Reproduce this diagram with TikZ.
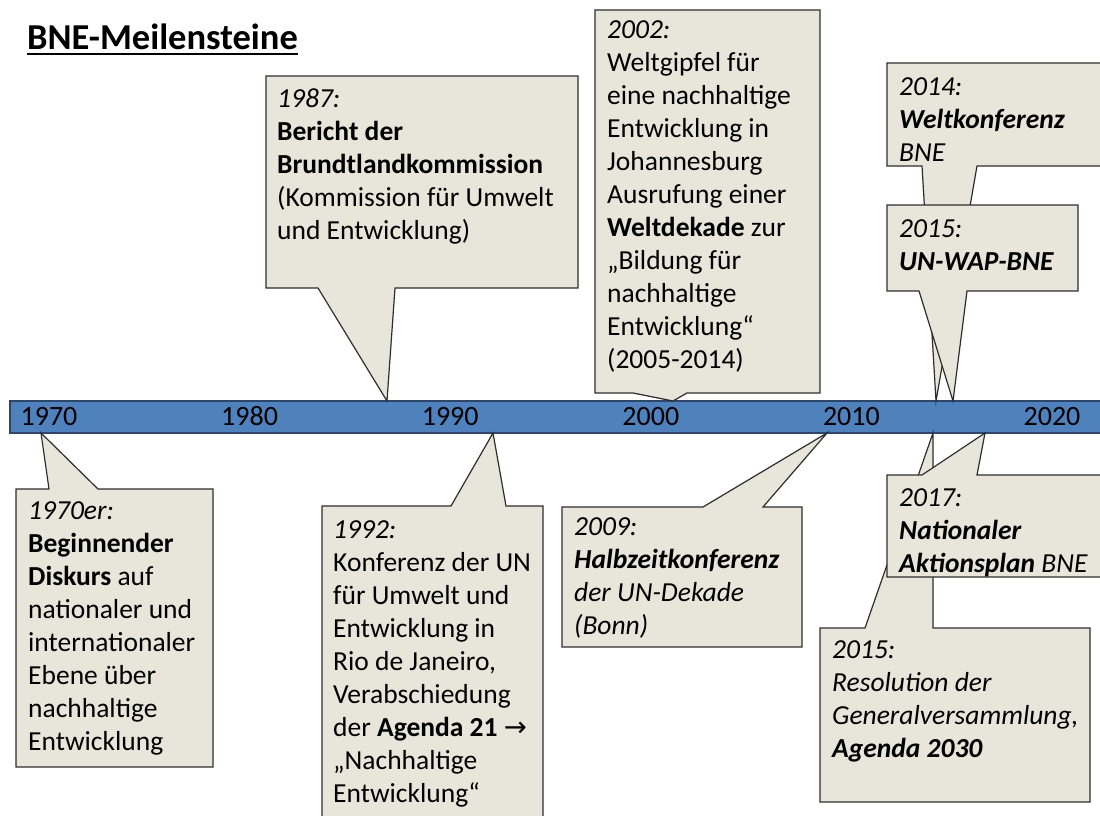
\documentclass[tikz,border=0pt]{standalone}
\usepackage{fontspec}
\setmainfont{Carlito}
\newfontfamily\arrowfont{DejaVu Sans}
\usetikzlibrary{calc}
\definecolor{barblue}{RGB}{79,129,189}
\definecolor{barline}{RGB}{45,70,105}
\definecolor{notefill}{RGB}{232,230,218}
\definecolor{noteline}{RGB}{45,45,45}
\tikzset{
  note/.style={fill=notefill, draw=noteline, line width=1.2pt},
  notetext/.style={anchor=north west, inner sep=0pt, align=left, font=\fontsize{27.5}{33}\selectfont},
  yearlabel/.style={anchor=base, inner sep=0pt, font=\fontsize{28}{33}\selectfont}
}
\begin{document}
\begin{tikzpicture}[x=1pt, y=-1pt]
  \useasboundingbox (0,0) rectangle (1100,816);
  \clip (0,0) rectangle (1100,816);

  \node[anchor=base west, inner sep=0pt, font=\fontsize{36.5}{40}\selectfont\bfseries] (title) at (27,49) {BNE-Meilensteine};
  \draw[line width=2pt] ([yshift=-5pt]title.base west) -- ([yshift=-5pt]title.base east);

  \draw[fill=barblue, draw=barline, line width=1.2pt] (10,401) rectangle (1120,433);
  \foreach \yr [count=\i from 0] in {1970,1980,...,2020}
    \node[yearlabel] (l\yr) at (49+200.6*\i, 425) {\yr};

  \coordinate (p1970) at (41,433);
  \coordinate (p1987) at (387,401);
  \coordinate (p1992) at (493,433);
  \coordinate (p2002) at (673,401);
  \coordinate (p2009) at (827,433);
  \coordinate (p2014) at (936,401);
  \coordinate (p2015a) at (953,401);
  \coordinate (p2015b) at (933,433);
  \coordinate (p2017) at (985,433);

  % above the time line
  \draw[note] (266,76) -- (578,76) -- (578,288) -- (395,288) -- (p1987) -- (318,288) -- (266,288) -- cycle;
  \node[notetext] (t1987) at (277,84) {\strut\textit{1987:}\\ \textbf{Bericht der}\\ \textbf{Brundtlandkommission}\\ (Kommission für Umwelt\\ und Entwicklung)};

  \draw[note] (595,10) -- (820,10) -- (820,393) -- (687,393) -- (p2002) -- (633,393) -- (595,393) -- cycle;
  \node[notetext] (t2002) at (607,15) {\strut\textit{2002:}\\ Weltgipfel für\\ eine nachhaltige\\ Entwicklung in\\ Johannesburg\\ Ausrufung einer\\ \textbf{Weltdekade} zur\\ „Bildung für\\ nachhaltige\\ Entwicklung“\\ (2005-2014)};

  \draw[note] (887,63) -- (1120,63) -- (1120,166) -- (977,166) -- (p2014) -- (922,166) -- (887,166) -- cycle;
  \node[notetext] (t2014) at (899,72) {\strut\textit{2014:}\\ \textbf{\textit{Weltkonferenz}}\\ \textit{BNE}};

  \draw[note] (887,205) -- (1078,205) -- (1078,291) -- (967,291) -- (p2015a) -- (919,291) -- (887,291) -- cycle;
  \node[notetext] (t2015a) at (899,214) {\strut\textit{2015:}\\ \textbf{\textit{UN-WAP-BNE}}};

  % below the time line
  \draw[note] (16,489) -- (49,489) -- (p1970) -- (98,489) -- (213,489) -- (213,767) -- (16,767) -- cycle;
  \node[notetext] (t1970) at (28,496) {\strut\textit{1970er:}\\ \textbf{Beginnender}\\ \textbf{Diskurs} auf\\ nationaler und\\ internationaler\\ Ebene über\\ nachhaltige\\ Entwicklung};

  \draw[note] (322,506) -- (451,506) -- (p1992) -- (506,506) -- (543,506) -- (543,830) -- (322,830) -- cycle;
  \node[notetext] (t1992) at (333,515) {\strut\textit{1992:}\\ Konferenz der UN\\ für Umwelt und\\ Entwicklung in\\ Rio de Janeiro,\\ Verabschiedung\\ der \textbf{Agenda 21} {\arrowfont →}\\ „Nachhaltige\\ Entwicklung“};

  \draw[note] (562,507) -- (703,507) -- (p2009) -- (763,507) -- (802,507) -- (802,647) -- (562,647) -- cycle;
  \node[notetext] (t2009) at (574,512) {\strut\textit{2009:}\\ \textbf{\textit{Halbzeitkonferenz}}\\ \textit{der UN-Dekade}\\ \textit{(Bonn)}};

  \draw[note] (820,628) -- (865,628) -- (p2015b) -- (933,628) -- (1090,628) -- (1090,802) -- (820,802) -- cycle;
  \node[notetext] (t2015b) at (832,635) {\strut\textit{2015:}\\ \textit{Resolution der}\\ \textit{Generalversammlung,}\\ \textbf{\textit{Agenda 2030}}};

  \draw[note] (887,475) -- (922,475) -- (p2017) -- (977,475) -- (1120,475) -- (1120,577) -- (887,577) -- cycle;
  \node[notetext] (t2017) at (899,483) {\strut\textit{2017:}\\ \textbf{\textit{Nationaler}}\\ \textbf{\textit{Aktionsplan}} \textit{BNE}};
\end{tikzpicture}
\end{document}
